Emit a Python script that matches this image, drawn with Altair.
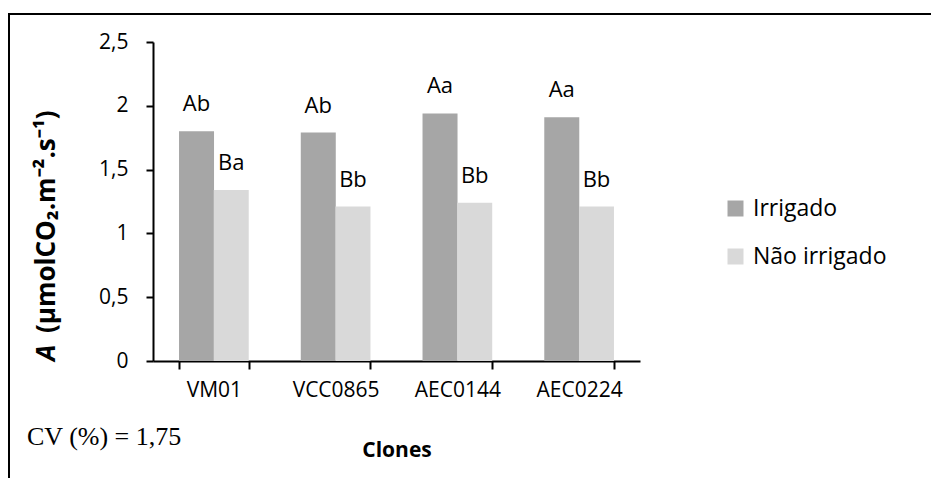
import altair as alt
import pandas as pd

clones = ["VM01", "VCC0865", "AEC0144", "AEC0224"]
series = ["Irrigado", "Não irrigado"]
irrigado = [1.80, 1.79, 1.94, 1.91]
nao_irrigado = [1.34, 1.21, 1.24, 1.21]
lab_irrigado = ["Ab", "Ab", "Aa", "Aa"]
lab_nao = ["Ba", "Bb", "Bb", "Bb"]
colors = ["#A6A6A6", "#D9D9D9"]
y_ticks = [0, 0.5, 1, 1.5, 2, 2.5]

rows = []
for i, c in enumerate(clones):
    rows.append({"Clone": c, "Trat": series[0], "A": irrigado[i], "lab": lab_irrigado[i]})
    rows.append({"Clone": c, "Trat": series[1], "A": nao_irrigado[i], "lab": lab_nao[i]})
df = pd.DataFrame(rows)

W, H = 487, 319
PL, PT = 153, 42
FONT = "Open Sans"

x = alt.X("Clone:N", sort=clones,
          scale=alt.Scale(paddingInner=0.43, paddingOuter=0.215),
          axis=alt.Axis(title="Clones", labelAngle=0, labelFontSize=21, labelColor="black",
                        labelFont=FONT, tickBand="extent", tickSize=8, tickWidth=2,
                        tickColor="black", domainColor="black", domainWidth=2,
                        labelPadding=10, titleFont=FONT, titleFontSize=21,
                        titleFontWeight="bold", titleColor="black", titlePadding=39))
xo = alt.XOffset("Trat:N", sort=series, scale=alt.Scale(paddingInner=0, paddingOuter=0))
y = alt.Y("A:Q", scale=alt.Scale(domain=[0, 2.5], nice=False),
          axis=alt.Axis(title=None, values=y_ticks, grid=False,
                        labelExpr="replace(format(datum.value,'.1~f'),'.',',')",
                        labelFontSize=21, labelFont=FONT, labelColor="black",
                        tickSize=7, tickWidth=2, tickColor="black",
                        domainColor="black", domainWidth=2, labelPadding=18))

base = alt.Chart(df)
bars = base.mark_bar(size=35).encode(
    x=x, xOffset=xo, y=y,
    color=alt.Color("Trat:N", sort=series, scale=alt.Scale(domain=series, range=colors),
                    legend=alt.Legend(title=None, orient="none", legendX=571, legendY=155,
                                      symbolType="square", symbolSize=256,
                                      symbolStrokeWidth=0, labelFontSize=23,
                                      labelFont=FONT, labelColor="black",
                                      rowPadding=24, labelOffset=6))
)
labels = base.mark_text(fontSize=22, font=FONT, color="black", dy=-27).encode(
    x=x, xOffset=xo, y=y, text="lab:N"
)

one = pd.DataFrame({"k": [0]})
ytitle_a = alt.Chart(one).mark_text(text="A", angle=270, align="left", baseline="middle",
                                    fontSize=26, font=FONT, fontWeight="bold",
                                    fontStyle="italic", color="black").encode(
    x=alt.value(47 - PL), y=alt.value(361 - PT))
ytitle_b = alt.Chart(one).mark_text(text="(µmolCO₂.m⁻².s⁻¹)", angle=270, align="left",
                                    baseline="middle", fontSize=26, font=FONT,
                                    fontWeight="bold", color="black").encode(
    x=alt.value(47 - PL), y=alt.value(333 - PT))
cv = alt.Chart(one).mark_text(text="CV (%) = 1,75", align="left", baseline="middle",
                              fontSize=26, font="Liberation Serif", color="black").encode(
    x=alt.value(27 - PL), y=alt.value(437 - PT))
frame_top = alt.Chart(one).mark_rule(color="black", strokeWidth=2).encode(
    x=alt.value(9 - PL), x2=alt.value(931 - PL), y=alt.value(14 - PT))
frame_left = alt.Chart(one).mark_rule(color="black", strokeWidth=2).encode(
    x=alt.value(9 - PL), y=alt.value(13 - PT), y2=alt.value(478 - PT))

chart = alt.layer(bars, labels, ytitle_a, ytitle_b, cv, frame_top, frame_left).properties(
    width=W, height=H,
    autosize=alt.AutoSizeParams(type="none"),
    padding={"left": PL, "top": PT, "right": 931 - PL - W, "bottom": 478 - PT - H},
    background="white",
).configure_view(stroke=None)

chart.save("out.html", embed_options={"renderer": "svg", "actions": False})
